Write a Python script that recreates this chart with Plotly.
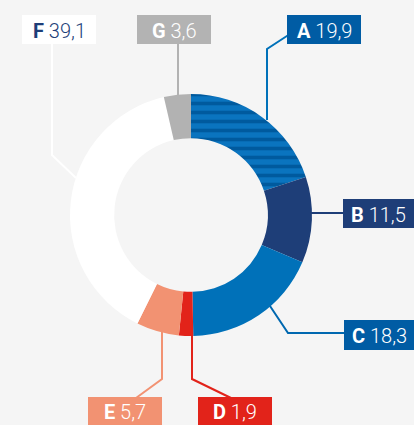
import plotly.graph_objects as go

W, H = 414, 425

# ---- data ----
categories = ["A", "B", "C", "D", "E", "F", "G"]
values = [19.9, 11.5, 18.3, 1.9, 5.7, 39.1, 3.6]
value_labels = ["19,9", "11,5", "18,3", "1,9", "5,7", "39,1", "3,6"]

slice_colors = ["#0a74bf", "#1e3e78", "#0071b9", "#e2231a", "#f29272", "#ffffff", "#b2b2b2"]
box_colors = ["#005ca4", "#1e3e78", "#005ca4", "#e2231a", "#f29272", "#ffffff", "#b3b3b3"]
text_colors = ["#ffffff", "#ffffff", "#ffffff", "#ffffff", "#ffffff", "#1e3e78", "#ffffff"]
line_colors = ["#0071b9", "#1e3e78", "#0068b0", "#e2231a", "#f29272", "#ffffff", "#b2b2b2"]

# label box placement (pixel layout) and leader line paths (pixel layout)
boxes = {
    "A": (287, 15, 361, 44),
    "B": (343, 199, 418, 228),
    "C": (344, 320, 418, 350),
    "D": (198, 397, 272, 427),
    "E": (88, 397, 162, 427),
    "F": (22, 15, 96, 44),
    "G": (137, 15, 211, 44),
}
leaders = {
    "A": [(293, 32), (267, 49), (267, 120)],
    "B": [(310, 213), (344, 213)],
    "C": [(270, 306), (288, 333), (344, 333)],
    "D": [(192, 332), (192, 379), (231, 398)],
    "E": [(162, 330), (162, 379), (136, 398)],
    "F": [(52, 44), (52, 155), (76, 178)],
    "G": [(178, 44), (178, 95)],
}

cx, cy, R = 191, 215, 121


def px(x):
    return x / W


def py(y):
    return 1 - y / H


fig = go.Figure()
fig.add_trace(go.Pie(
    labels=categories,
    values=values,
    sort=False,
    direction="clockwise",
    rotation=0,
    hole=0.635,
    textinfo="none",
    hoverinfo="label+value",
    showlegend=False,
    marker=dict(
        colors=slice_colors,
        line=dict(width=0),
        pattern=dict(
            shape=["-", "", "", "", "", "", ""],
            fgcolor="#005a9e",
            bgcolor=slice_colors,
            size=9,
            solidity=0.4,
            fillmode="replace",
        ),
    ),
    domain=dict(x=[px(cx - R), px(cx + R)], y=[py(cy + R), py(cy - R)]),
))

shapes = []
annotations = []
for i, cat in enumerate(categories):
    pts = leaders[cat]
    path = "M " + " L ".join(f"{px(x)},{py(y)}" for x, y in pts)
    shapes.append(dict(type="path", xref="paper", yref="paper", path=path,
                       line=dict(color=line_colors[i], width=2)))
    x0, y0, x1, y1 = boxes[cat]
    shapes.append(dict(type="rect", xref="paper", yref="paper",
                       x0=px(x0), x1=px(x1), y0=py(y1), y1=py(y0),
                       fillcolor=box_colors[i], line=dict(width=0), layer="above"))
    tx = (x0 + min(x1, W)) / 2
    ty = (y0 + min(y1, H)) / 2 + 1
    annotations.append(dict(
        xref="paper", yref="paper", x=px(tx), y=py(ty),
        text=f"<b>{cat}</b> {value_labels[i]}", showarrow=False,
        xanchor="center", yanchor="middle",
        font=dict(family="Roboto", size=20, color=text_colors[i], weight=300),
    ))

fig.update_layout(
    width=W, height=H,
    margin=dict(l=0, r=0, t=0, b=0),
    paper_bgcolor="#f5f5f5",
    plot_bgcolor="#f5f5f5",
    shapes=shapes,
    annotations=annotations,
)

fig.write_html(
    "out.html",
    config={"displayModeBar": False},
    post_script="document.body.style.margin='0';document.body.style.overflow='hidden';",
)
